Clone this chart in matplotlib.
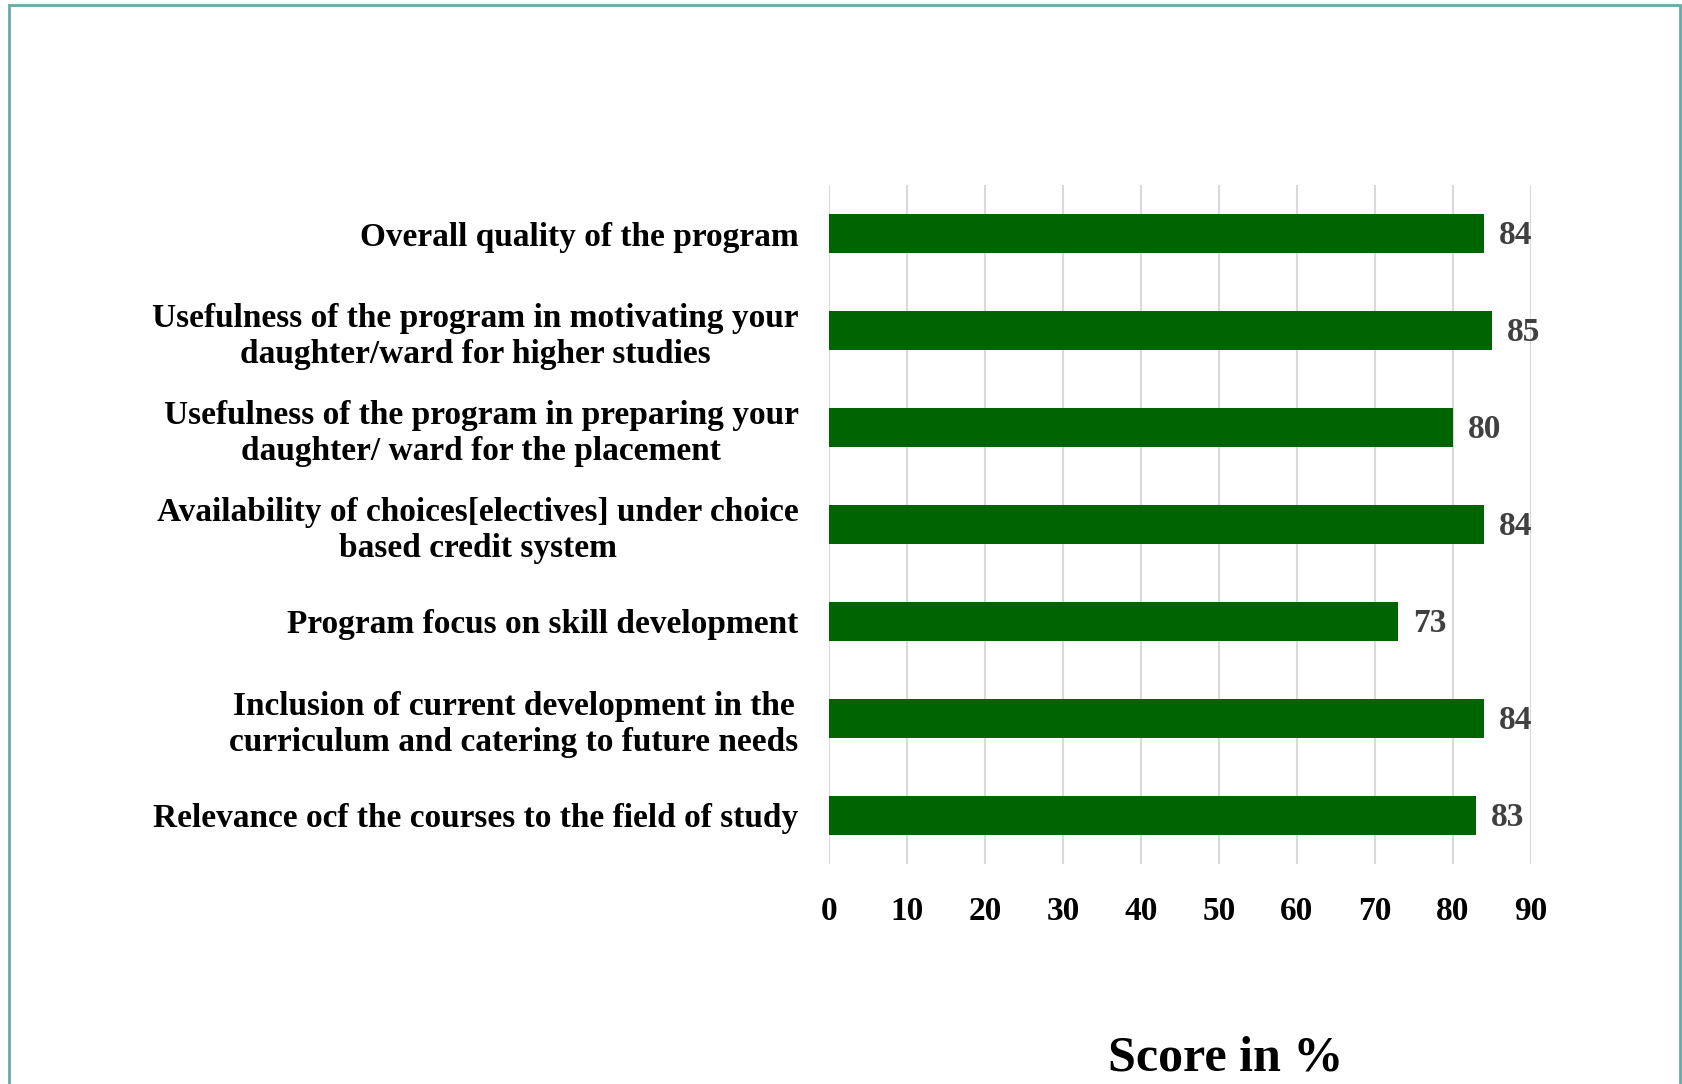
import matplotlib
matplotlib.use('Agg')
import matplotlib.pyplot as plt
from matplotlib.patches import Rectangle

plt.rcParams['font.family'] = ['Liberation Serif', 'DejaVu Serif']
plt.rcParams['font.weight'] = 'bold'

# 数据（从上到下）
categories = [
    'Overall quality of the program',
    'Usefulness of the program in motivating your\ndaughter/ward for higher studies',
    'Usefulness of the program in preparing your\ndaughter/ ward for the placement',
    'Availability of choices[electives] under choice\nbased credit system',
    'Program focus on skill development',
    'Inclusion of current development in the\ncurriculum and catering to future needs',
    'Relevance ocf the courses to the field of study',
]
scores = [84, 85, 80, 84, 73, 84, 83]
x_ticks = [0, 10, 20, 30, 40, 50, 60, 70, 80, 90]

fig = plt.figure(figsize=(16.82, 10.84), dpi=100)
ax = fig.add_axes([0.4929, 0.2030, 0.4173, 0.6263])

ypos = list(range(len(categories)))[::-1]
ax.barh(ypos, scores, height=0.4, color='#006400', zorder=3)

for y, v in zip(ypos, scores):
    ax.text(v + 1.9, y - 0.02, str(v), va='center', ha='left', fontsize=24,
            fontweight='bold', color='#404040')

ax.set_xlim(0, 90)
ax.set_ylim(-0.5, len(categories) - 0.5)
ax.set_xticks(x_ticks)
ax.set_yticks(ypos)
ax.set_yticklabels(categories, fontsize=24, fontweight='bold',
                   multialignment='center', linespacing=1.2)
ax.tick_params(axis='y', length=0, pad=22)
ax.tick_params(axis='x', length=0, pad=23, labelsize=24)
ax.grid(axis='x', color='#d9d9d9', linewidth=1.5, zorder=0)
for s in ax.spines.values():
    s.set_visible(False)

fig.text(0.729, 0.012, 'Score in %', ha='center', va='baseline', fontsize=36, fontweight='bold')

# 外框
fig.patches.append(Rectangle((0.0053, -0.01), 0.9935, 1.005, transform=fig.transFigure,
                             fill=False, edgecolor='#6aa8a8', linewidth=2))

fig.savefig('out.png', dpi=100)
